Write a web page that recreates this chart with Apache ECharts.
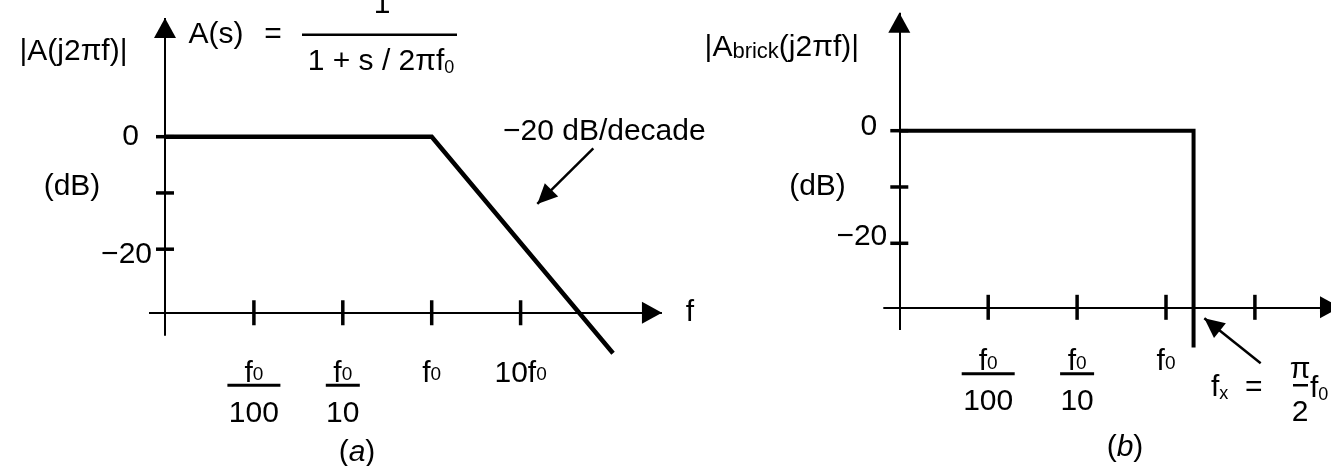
<!DOCTYPE html>
<html>
<head>
<meta charset="utf-8">
<title>Bode asymptote vs brick-wall response</title>
<script src="https://cdn.jsdelivr.net/npm/echarts@6/dist/echarts.min.js"></script>
<style>
  html, body { margin: 0; padding: 0; background: #fff; }
  #chart { width: 1331px; height: 466px; }
</style>
</head>
<body>
<div id="chart"></div>
<script>
// x is log10(f / f0) in decades, y is gain in dB
const decadeTicks = [-2, -1, 0, 1]
const dbTicks = [0, -10, -20]
const dbTickLabels = ['0', '', '−20']
const freqLabelsA = ['f0/100', 'f0/10', 'f0', '10f0']
const freqLabelsB = ['f0/100', 'f0/10', 'f0', '']

// (a) first-order low-pass, straight-line asymptote
const bodeX = [-3, 0, 2.04]
const bodeDb = [0, 0, -38.5]

// (b) brick-wall filter, cut at fx
const brickX = [-3, 0.31, 0.31]
const brickDb = [0, 0, -38.5]

const FONT = 'Liberation Sans'
const INK = '#000'

// layout of the two panels (pixel boxes + where the hand-drawn axes sit)
const panels = [
  {
    grid: { left: 120.55, top: 12.95, width: 577.85, height: 360 },
    xRange: [-3.5, 3], yRange: [-42, 22],
    yAxisAt: -3, xAxisAt: -31.3,
    xAxisSpan: [-3.18, 2.59], yAxisSpan: [-35.4, 21.1],
    tickGap: 37,
    yLabelNudge: [[-13, 0], [0, 0], [0, 6]],
    pointer: [[1.818, -2.06], [1.188, -11.96]],
    curveWidth: 4.5
  },
  {
    grid: { left: 854.85, top: 6.84, width: 488.95, height: 360.3 },
    xRange: [-3.5, 2], yRange: [-42, 22],
    yAxisAt: -3, xAxisAt: -31.37,
    xAxisSpan: [-3.18, 1.957], yAxisSpan: [-35.4, 20.96],
    tickGap: 31,
    yLabelNudge: [[-9, -4], [0, 0], [1, -6.6]],
    pointer: [[1.065, -41.3], [0.431, -33.3]],
    curveWidth: 4
  }
]

const tickRich = {
  f: { fontSize: 30, fontFamily: FONT, lineHeight: 22, color: INK },
  m: { fontSize: 30, fontFamily: FONT, lineHeight: 22, color: INK },
  s: { fontSize: 19, fontFamily: FONT, lineHeight: 19, verticalAlign: 'bottom', color: INK },
  barL: { width: 53, height: 3, lineHeight: 2, fontSize: 2, backgroundColor: INK },
  barS: { width: 34, height: 3, lineHeight: 2, fontSize: 2, backgroundColor: INK },
  n: { fontSize: 30, fontFamily: FONT, lineHeight: 54, color: INK }
}

// 'f0/100' -> f with subscript 0 over a bar over 100
function freqRich(s) {
  if (!s) return ''
  const parts = s.split('/')
  const top = parts[0].replace('f0', '{f|f}{s|0}').replace(/^(\d+)/, '{m|$1}')
  if (parts.length === 1) return top
  const bar = parts[1].length > 2 ? 'barL' : 'barS'
  return top + '\n{' + bar + '| }\n{n|' + parts[1] + '}'
}

// line with a filled head whose tip lands on `to`
function arrow(from, to, width, head) {
  return [
    { coord: from, symbol: 'none', lineStyle: { width: width } },
    { coord: to, symbol: 'triangle', symbolSize: head, symbolOffset: [0, head[1] / 2] }
  ]
}

function panelSeries(i, p, xs, ys, freqLabels) {
  return [
    {
      type: 'line',
      xAxisIndex: i,
      yAxisIndex: i,
      silent: true,
      color: INK,
      showSymbol: false,
      data: xs.map((x, k) => [x, ys[k]]),
      lineStyle: { color: INK, width: p.curveWidth, join: 'miter' },
      markLine: {
        silent: true,
        animation: false,
        label: { show: false },
        lineStyle: { color: INK, width: 2, type: 'solid' },
        data: [
          arrow([p.xAxisSpan[0], p.xAxisAt], [p.xAxisSpan[1], p.xAxisAt], 2, [22, 20]),
          arrow([p.yAxisAt, p.yAxisSpan[0]], [p.yAxisAt, p.yAxisSpan[1]], 2, [22, 20]),
          arrow(p.pointer[0], p.pointer[1], 2.5, [19, 20])
        ]
      }
    },
    {
      type: 'scatter',
      xAxisIndex: i,
      yAxisIndex: i,
      silent: true,
      symbol: 'rect',
      symbolSize: [3.5, 25],
      itemStyle: { color: INK, opacity: 1 },
      data: decadeTicks.map(v => [v, p.xAxisAt]),
      label: {
        show: true,
        position: 'bottom',
        distance: p.tickGap,
        color: INK,
        fontFamily: FONT,
        fontSize: 30,
        formatter: params => freqRich(freqLabels[params.dataIndex]),
        rich: tickRich
      }
    },
    {
      type: 'scatter',
      xAxisIndex: i,
      yAxisIndex: i,
      silent: true,
      symbol: 'rect',
      symbolSize: [18, 3.5],
      itemStyle: { color: INK, opacity: 1 },
      data: dbTicks.map((v, k) => ({ value: [p.yAxisAt, v], label: { offset: p.yLabelNudge[k] } })),
      label: {
        show: true,
        position: 'left',
        distance: 4,
        color: INK,
        fontFamily: FONT,
        fontSize: 30,
        formatter: params => dbTickLabels[params.dataIndex]
      }
    }
  ]
}

const textRich = {
  s: { fontSize: 18, fontFamily: FONT, lineHeight: 22, verticalAlign: 'bottom' },
  sb: { fontSize: 22, fontFamily: FONT, lineHeight: 24, verticalAlign: 'bottom' },
  i: { fontSize: 30, fontFamily: FONT, fontStyle: 'italic' }
}

function note(x, y, text, align) {
  return {
    type: 'text',
    x: x,
    y: y,
    silent: true,
    style: {
      text: text,
      font: '30px "' + FONT + '"',
      fill: INK,
      align: align || 'center',
      verticalAlign: 'middle',
      rich: textRich
    }
  }
}

function bar(x, y, w, h) {
  return { type: 'rect', silent: true, shape: { x: x, y: y, width: w, height: h }, style: { fill: INK } }
}

const chart = echarts.init(document.getElementById('chart'))
chart.setOption({
  animation: false,
  backgroundColor: '#fff',
  textStyle: { fontFamily: FONT },
  // panel (b) runs past the right edge on purpose: the x arrow is cut off there
  grid: panels.map(p => Object.assign({ containLabel: false, outerBoundsMode: 'none' }, p.grid)),
  xAxis: panels.map((p, i) => ({ type: 'value', gridIndex: i, min: p.xRange[0], max: p.xRange[1], show: false })),
  yAxis: panels.map((p, i) => ({ type: 'value', gridIndex: i, min: p.yRange[0], max: p.yRange[1], show: false })),
  series: [].concat(
    panelSeries(0, panels[0], bodeX, bodeDb, freqLabelsA),
    panelSeries(1, panels[1], brickX, brickDb, freqLabelsB)
  ),
  graphic: [
    // panel (a)
    note(73.5, 51.7, '|A(j2πf)|'),
    note(72, 187, '(dB)'),
    note(216, 35, 'A(s)'),
    note(273, 35, '='),
    note(382, 5, '1'),
    bar(302, 33.5, 155, 2.5),
    note(381, 62, '1 + s / 2πf{s|0}'),
    note(503, 131.7, '−20 dB/decade', 'left'),
    note(690, 313, 'f'),
    note(357, 453, '({i|a})'),
    // panel (b)
    note(859, 48, '|A{sb|brick}(j2πf)|', 'right'),
    note(817.5, 186.7, '(dB)'),
    note(1211, 388, 'f{s|x}  =', 'left'),
    note(1300, 370, 'π'),
    bar(1293, 384, 15, 2.5),
    note(1300, 413, '2'),
    note(1310, 389, 'f{s|0}', 'left'),
    note(1125, 448, '({i|b})')
  ]
})
</script>
</body>
</html>
